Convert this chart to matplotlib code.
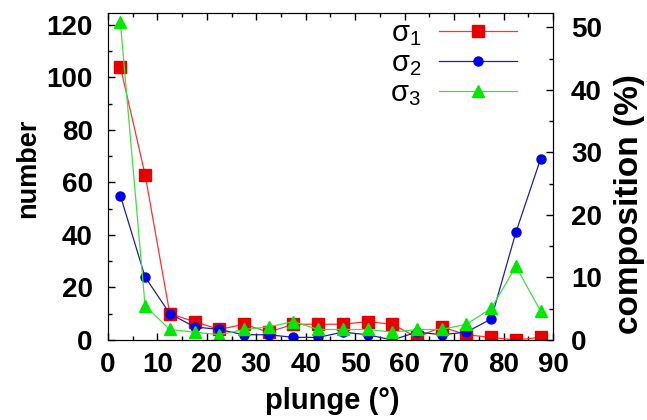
#!/usr/bin/env python

import matplotlib
matplotlib.use('Agg')
import matplotlib.pyplot as plt
from matplotlib.ticker import MultipleLocator

# plunge bins (deg) and counts per principal stress axis
plunge = [2.5, 7.5, 12.5, 17.5, 22.5, 27.5, 32.5, 37.5, 42.5,
          47.5, 52.5, 57.5, 62.5, 67.5, 72.5, 77.5, 82.5, 87.5]
sigma1 = [104, 63, 10, 7, 4, 6, 3, 6, 6, 6, 7, 6, 1, 5, 2, 1, 0, 1]
sigma2 = [55, 24, 10, 5, 4, 2, 2, 1, 1, 3, 2, 0, 3, 2, 3, 8, 41, 69]
sigma3 = [121, 13, 4, 3, 2, 4, 5, 7, 4, 4, 4, 3, 4, 4, 6, 12, 28, 11]
total = 238

labels = [r'$\mathregular{σ_1}$', r'$\mathregular{σ_2}$', r'$\mathregular{σ_3}$']


def main():
    plt.rcParams['font.family'] = ['Liberation Sans', 'DejaVu Sans']
    plt.rcParams['mathtext.fontset'] = 'custom'
    plt.rcParams['mathtext.rm'] = 'Liberation Sans'

    fig = plt.figure(figsize=(6.47, 4.2), dpi=100)
    ax = fig.add_axes([0.1669, 0.1905, 0.6878, 0.7786])

    ax.plot(plunge, sigma1, '-s', color='#ff3030', mfc='#e80000', mec='#e80000',
            ms=8, lw=0.9, label=labels[0])
    ax.plot(plunge, sigma2, '-o', color='#2020a0', mfc='#0000e8', mec='#0000e8',
            ms=6.5, lw=0.9, label=labels[1])
    ax.plot(plunge, sigma3, '-^', color='#40e040', mfc='#00e800', mec='#00e800',
            ms=8, lw=0.9, label=labels[2])

    ymax = 124.5
    ax.set_xlim(0, 90)
    ax.set_ylim(0, ymax)
    ax.xaxis.set_major_locator(MultipleLocator(10))
    ax.xaxis.set_minor_locator(MultipleLocator(5))
    ax.yaxis.set_major_locator(MultipleLocator(20))
    ax.yaxis.set_minor_locator(MultipleLocator(10))
    ax.tick_params(which='both', direction='in', top=True, right=False,
                   labelsize=20, width=1)
    ax.tick_params(which='major', length=5)
    ax.tick_params(which='minor', length=3)
    ax.tick_params(axis='x', pad=9)
    ax.tick_params(axis='y', pad=11)
    for lab in ax.get_xticklabels() + ax.get_yticklabels():
        lab.set_fontweight('bold')

    ax2 = ax.twinx()
    ax2.set_ylim(0, ymax * 100.0 / total)
    ax2.yaxis.set_major_locator(MultipleLocator(10))
    ax2.yaxis.set_minor_locator(MultipleLocator(5))
    ax2.tick_params(which='both', direction='in', labelsize=20, width=1, pad=13)
    ax2.tick_params(which='major', length=5)
    ax2.tick_params(which='minor', length=3)
    for lab in ax2.get_yticklabels():
        lab.set_fontweight('bold')

    ax.set_xlabel('plunge (°)', fontsize=21, fontweight='bold')
    ax.set_ylabel('number', fontsize=19.5, fontweight='bold')
    ax2.set_ylabel('composition (%)', fontsize=24, fontweight='bold')
    ax.xaxis.set_label_coords(0.503, -0.187)
    ax.xaxis.label.set_va('center')
    ax.yaxis.set_label_coords(-0.18, 0.526)
    ax.yaxis.label.set_va('center')
    ax2.yaxis.set_label_coords(1.171, 0.415)
    ax2.yaxis.label.set_va('center')

    ax.legend(loc='upper right', bbox_to_anchor=(0.946, 1.018), frameon=False,
              markerfirst=False, fontsize=21, handlelength=2.7,
              labelspacing=0.05, handletextpad=0.6, borderaxespad=0)

    fig.savefig('out.png', dpi=100)


if __name__ == '__main__':
    main()
